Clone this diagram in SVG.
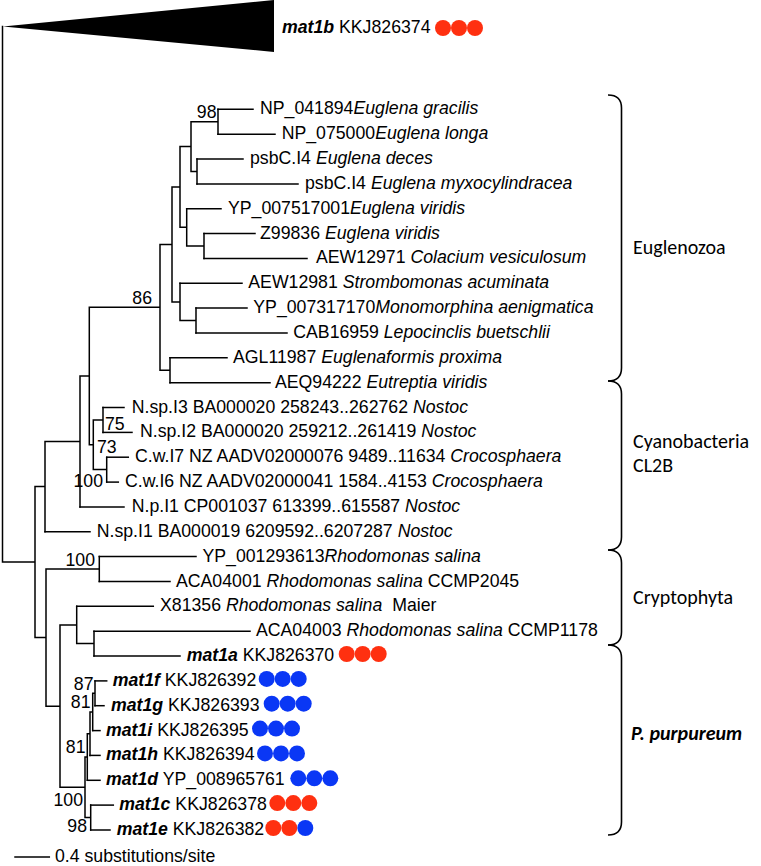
<svg xmlns="http://www.w3.org/2000/svg" width="761" height="866" viewBox="0 0 761 866">
<style>
.t{font-family:"Liberation Sans",Arial,sans-serif;font-size:17.7px;fill:#000}
.i{font-style:italic}
.b{font-weight:bold;font-style:italic}
.c{fill:none;stroke:#000;stroke-width:1.5;stroke-linecap:square}
.br{fill:none;stroke:#000;stroke-width:1.6}
.r{fill:#ff3010}
.u{fill:#0a37f5}
.cl{font-family:Carlito,Lato,"Open Sans",sans-serif;font-size:20px;fill:#000}
</style>
<rect width="761" height="866" fill="#fff"/>
<g id="connectors">
<path class="c" d="M2.5,26.5V562.1H35 M35,486.6V637.6 M35,486.6H45 M35,637.6H46
M45,441.5V531.8 M45,441.5H80 M80,376.1V506.9 M80,376.1H89.3
M89.3,307.3V444.8 M89.3,307.3H160 M89.3,444.8H93.3
M93.3,419.9V469.6 M93.3,419.9H103 M93.3,469.6H106.7
M103,407.5V432.4 M106.7,457.2V482.1
M160,244.4V370.2 M160,244.4H172 M160,370.2H170 M170,357.8V382.7
M172,187V301.9 M172,187H180 M172,301.9H180
M180,146.6V227.3 M180,146.6H191 M180,227.3H186.7
M191,121.7V171.4 M191,121.7H218 M191,171.4H197
M218,109.3V134.2 M197,159V183.9
M186.7,208.7V246 M186.7,246H204 M204,233.6V258.4
M180,283.3V320.5 M180,320.5H196 M196,308.1V333
M46,569V706.2 M46,569H99.3 M46,706.2H60 M99.3,556.6V581.5
M60,625V787.3 M60,625H76.7 M60,787.3H85
M76.7,606.3V643.6 M76.7,643.6H94 M94,631.2V656
M85,757V817.5 M85,757H87.3 M85,817.5H90.7
M87.3,733.7V780.3 M87.3,733.7H90
M90,712V755.4 M90,712H92.7
M92.7,693.3V730.6 M92.7,693.3H95
M95,680.9V705.7 M90.7,805.1V830"/>
</g>
<g id="mat1b">
<polygon points="3,26.5 274,0 274,52" fill="#000"/>
<text class="t" x="282" y="33"><tspan class="b">mat1b</tspan> KKJ826374</text>
<circle class="r" cx="443" cy="28" r="8"/><circle class="r" cx="459" cy="28" r="8"/><circle class="r" cx="475" cy="28" r="8"/>
</g>
<g id="leaves">
<g id="n1"><path class="c" d="M218,109.3H253"/><text class="t" x="260" y="114.3">NP_041894<tspan class="i">Euglena gracilis</tspan></text></g>
<g id="n2"><path class="c" d="M218,134.2H275"/><text class="t" x="281.7" y="139.2">NP_075000<tspan class="i">Euglena longa</tspan></text></g>
<g id="n3"><path class="c" d="M197,159H243"/><text class="t" x="250" y="164">psbC.I4 <tspan class="i">Euglena deces</tspan></text></g>
<g id="n4"><path class="c" d="M197,183.9H298"/><text class="t" x="305" y="188.9">psbC.I4 <tspan class="i">Euglena myxocylindracea</tspan></text></g>
<g id="n5"><path class="c" d="M186.7,208.7H221"/><text class="t" x="228" y="213.7">YP_007517001<tspan class="i">Euglena viridis</tspan></text></g>
<g id="n6"><path class="c" d="M204,233.6H255"/><text class="t" x="260" y="238.6">Z99836 <tspan class="i">Euglena viridis</tspan></text></g>
<g id="n7"><path class="c" d="M204,258.4H307"/><text class="t" x="316" y="263.4">AEW12971 <tspan class="i">Colacium vesiculosum</tspan></text></g>
<g id="n8"><path class="c" d="M180,283.3H242"/><text class="t" x="248.3" y="288.3">AEW12981 <tspan class="i">Strombomonas acuminata</tspan></text></g>
<g id="n9"><path class="c" d="M196,308.1H247"/><text class="t" x="253.3" y="313.1">YP_007317170<tspan class="i">Monomorphina aenigmatica</tspan></text></g>
<g id="n10"><path class="c" d="M196,333H287"/><text class="t" x="293.3" y="338">CAB16959 <tspan class="i">Lepocinclis buetschlii</tspan></text></g>
<g id="n11"><path class="c" d="M170,357.8H227"/><text class="t" x="233" y="362.8">AGL11987 <tspan class="i">Euglenaformis proxima</tspan></text></g>
<g id="n12"><path class="c" d="M170,382.7H270"/><text class="t" x="275" y="387.7">AEQ94222 <tspan class="i">Eutreptia viridis</tspan></text></g>
<g id="n13"><path class="c" d="M103,407.5H124"/><text class="t" x="131.7" y="412.5">N.sp.I3 BA000020 258243..262762 <tspan class="i">Nostoc</tspan></text></g>
<g id="n14"><path class="c" d="M103,432.4H132"/><text class="t" x="140" y="437.4">N.sp.I2 BA000020 259212..261419 <tspan class="i">Nostoc</tspan></text></g>
<g id="n15"><path class="c" d="M106.7,457.2H128.3"/><text class="t" x="135" y="462.2">C.w.I7 NZ AADV02000076 9489..11634 <tspan class="i">Crocosphaera</tspan></text></g>
<g id="n16"><path class="c" d="M106.7,482.1H118.3"/><text class="t" x="125" y="487.1">C.w.I6 NZ AADV02000041 1584..4153 <tspan class="i">Crocosphaera</tspan></text></g>
<g id="n17"><path class="c" d="M80,506.9H124"/><text class="t" x="131.7" y="511.9">N.p.I1 CP001037 613399..615587 <tspan class="i">Nostoc</tspan></text></g>
<g id="n18"><path class="c" d="M45,531.8H90"/><text class="t" x="96.7" y="536.8">N.sp.I1 BA000019 6209592..6207287 <tspan class="i">Nostoc</tspan></text></g>
<g id="n19"><path class="c" d="M99.3,556.6H196"/><text class="t" x="202.5" y="561.6">YP_001293613<tspan class="i">Rhodomonas salina</tspan></text></g>
<g id="n20"><path class="c" d="M99.3,581.5H170"/><text class="t" x="176" y="586.5">ACA04001 <tspan class="i">Rhodomonas salina</tspan> CCMP2045</text></g>
<g id="n21"><path class="c" d="M76.7,606.3H153.3"/><text class="t" x="160" y="611.3">X81356 <tspan class="i">Rhodomonas salina</tspan> <tspan dx="5">Maier</tspan></text></g>
<g id="n22"><path class="c" d="M94,631.2H250"/><text class="t" x="256" y="636.2">ACA04003 <tspan class="i">Rhodomonas salina</tspan> CCMP1178</text></g>
<g id="n23"><path class="c" d="M94,656H180"/><text class="t" x="186.7" y="661"><tspan class="b">mat1a</tspan> KKJ826370</text>
<circle class="r" cx="346.7" cy="654" r="8"/><circle class="r" cx="362.7" cy="654" r="8"/><circle class="r" cx="378.7" cy="654" r="8"/></g>
<g id="n24"><path class="c" d="M95,680.9H106.7"/><text class="t" x="112.7" y="685.9"><tspan class="b">mat1f</tspan> KKJ826392</text>
<circle class="u" cx="266.7" cy="678.9" r="8"/><circle class="u" cx="282.7" cy="678.9" r="8"/><circle class="u" cx="298.7" cy="678.9" r="8"/></g>
<g id="n25"><path class="c" d="M95,705.7H104"/><text class="t" x="111" y="710.7"><tspan class="b">mat1g</tspan> KKJ826393</text>
<circle class="u" cx="271.7" cy="703.7" r="8"/><circle class="u" cx="287.7" cy="703.7" r="8"/><circle class="u" cx="303.7" cy="703.7" r="8"/></g>
<g id="n26"><path class="c" d="M92.7,730.6H100"/><text class="t" x="106" y="735.6"><tspan class="b">mat1i</tspan> KKJ826395</text>
<circle class="u" cx="260" cy="728.6" r="8"/><circle class="u" cx="276" cy="728.6" r="8"/><circle class="u" cx="292" cy="728.6" r="8"/></g>
<g id="n27"><path class="c" d="M90,755.4H100"/><text class="t" x="106" y="760.4"><tspan class="b">mat1h</tspan> KKJ826394</text>
<circle class="u" cx="265" cy="753.4" r="8"/><circle class="u" cx="281" cy="753.4" r="8"/><circle class="u" cx="297" cy="753.4" r="8"/></g>
<g id="n28"><path class="c" d="M87.3,780.3H100"/><text class="t" x="106" y="785.3"><tspan class="b">mat1d</tspan> YP_008965761</text>
<circle class="u" cx="298.3" cy="778.3" r="8"/><circle class="u" cx="314.3" cy="778.3" r="8"/><circle class="u" cx="330.3" cy="778.3" r="8"/></g>
<g id="n29"><path class="c" d="M90.7,805.1H113.3"/><text class="t" x="119.3" y="810.1"><tspan class="b">mat1c</tspan> KKJ826378</text>
<circle class="r" cx="277.3" cy="803.1" r="8"/><circle class="r" cx="293.3" cy="803.1" r="8"/><circle class="r" cx="309.3" cy="803.1" r="8"/></g>
<g id="n30"><path class="c" d="M90.7,830H110"/><text class="t" x="116.7" y="835"><tspan class="b">mat1e</tspan> KKJ826382</text>
<circle class="r" cx="273.3" cy="828" r="8"/><circle class="r" cx="289.3" cy="828" r="8"/><circle class="u" cx="305.3" cy="828" r="8"/></g>
</g>
<g id="support">
<text class="t" x="216.5" y="118" text-anchor="end">98</text>
<text class="t" x="152" y="303.5" text-anchor="end">86</text>
<text class="t" x="105" y="430">75</text>
<text class="t" x="97" y="453.3">73</text>
<text class="t" x="103" y="486.7" text-anchor="end">100</text>
<text class="t" x="95" y="566" text-anchor="end">100</text>
<text class="t" x="93.5" y="690" text-anchor="end">87</text>
<text class="t" x="90.5" y="708.3" text-anchor="end">81</text>
<text class="t" x="85.5" y="753.3" text-anchor="end">81</text>
<text class="t" x="83" y="806" text-anchor="end">100</text>
<text class="t" x="87" y="832" text-anchor="end">98</text>
</g>
<g id="scale">
<path class="c" d="M15,857H49.3"/>
<text class="t" x="55" y="862">0.4 substitutions/site</text>
</g>
<g id="clades">
<path class="br" d="M608,95C616,95 621.5,98 621.5,108V368C621.5,378 616,381 608,381"/>
<path class="br" d="M608,381C616,381 621.5,384 621.5,394V537C621.5,547 616,550 608,550"/>
<path class="br" d="M608,550C616,550 621.5,553 621.5,563V632C621.5,642 616,645 608,645"/>
<path class="br" d="M608,645C616,645 621.5,648 621.5,658V822C621.5,832 616,835 608,835"/>
<text class="cl" x="633" y="254">Euglenozoa</text>
<text class="cl" x="633" y="448">Cyanobacteria</text>
<text class="cl" x="633" y="472">CL2B</text>
<text class="cl" x="633" y="604">Cryptophyta</text>
<text class="cl" x="631" y="740" font-size="21" font-weight="bold" font-style="italic">P. purpureum</text>
</g>
</svg>
